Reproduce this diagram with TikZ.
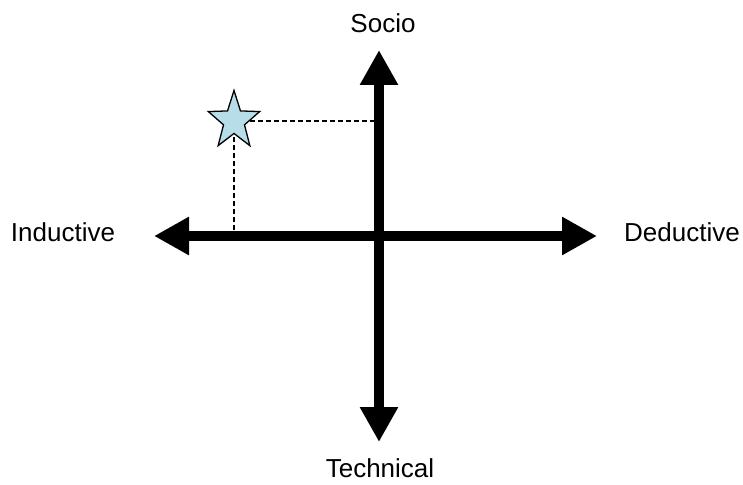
\documentclass[tikz,border=0pt]{standalone}
\usepackage{fontspec}
\setmainfont{Liberation Sans}
\usetikzlibrary{arrows.meta, shapes.geometric, calc}

\definecolor{starblue}{HTML}{B7DEE8}

\tikzset{
  axis/.style = {line width=10pt, {Triangle[length=35pt, width=36pt]}-{Triangle[length=35pt, width=36pt]}},
  guide/.style = {line width=1.1pt, dash pattern=on 5pt off 3pt},
  pole/.style = {font=\fontsize{26}{31}\selectfont, inner sep=0pt},
  marker/.style = {star, star points=5, star point ratio=2.45, minimum size=54pt,
                   inner sep=0pt, fill=starblue, draw, line width=1.3pt, yscale=1.13, transform shape}
}

\begin{document}
\begin{tikzpicture}[x=1pt, y=-1pt]
\useasboundingbox (0,0) rectangle (743,484);

% axis end points
\coordinate (west) at (154,236);
\coordinate (east) at (597,236);
\coordinate (north) at (379,50);
\coordinate (south) at (379,442);

\draw[axis] (west) -- (east);
\draw[axis] (south) -- (north);

% position marker
\coordinate (spot) at (234,121);
\draw[guide] (spot) -- (spot -| north);
\draw[guide] (spot) -- ($(spot |- west)+(0,-5)$);
\node[marker] (here) at (spot) {};

\node[pole] (inductive) at (63,232) {Inductive};
\node[pole] (deductive) at (682,232) {Deductive};
\node[pole] (socio) at (383,23) {Socio};
\node[pole] (technical) at (380,468) {Technical};
\end{tikzpicture}
\end{document}
